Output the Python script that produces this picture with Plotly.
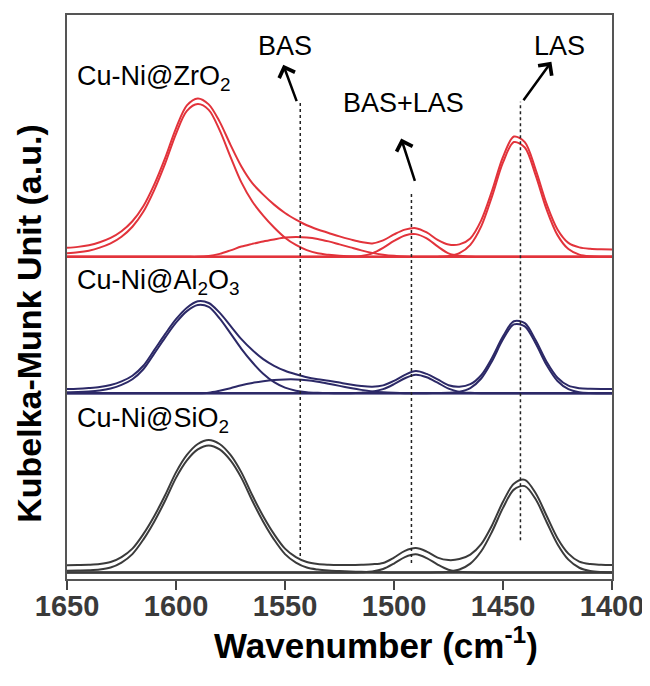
import plotly.graph_objects as go

# ---- data (a.u.) ----
wavenumber = [1650, 1645, 1640, 1635, 1630, 1625, 1620, 1615, 1610, 1605,
              1600, 1595, 1590, 1585, 1580, 1575, 1570, 1565, 1560, 1555,
              1550, 1545, 1540, 1535, 1530, 1525, 1520, 1515, 1510, 1505,
              1500, 1495, 1490, 1485, 1480, 1475, 1470, 1465, 1460, 1455,
              1450, 1445, 1440, 1435, 1430, 1425, 1420, 1415, 1410, 1405, 1400]

# Cu-Ni@ZrO2
zro2_total = [9.0, 10.0, 11.7, 14.7, 19.0, 25.7, 35.7, 50.7, 72.4, 99.0,
              129.0, 152.0, 159.0, 153.0, 135.7, 112.4, 90.7, 74.0, 62.4, 52.4,
              44.0, 37.4, 31.7, 27.5, 24.0, 20.5, 17.5, 14.8, 13.5, 16.5,
              22.5, 27.3, 28.8, 24.5, 17.0, 12.3, 12.5, 18.5, 36.6, 66.4,
              100.2, 120.7, 115.2, 87.3, 53.1, 27.5, 14.0, 9.5, 8.0, 7.5, 7.4]
zro2_peak1590 = [3.5, 4.5, 6.2, 9.2, 13.5, 20.2, 30.2, 45.2, 67.0, 93.5,
                 123.5, 146.5, 153.3, 147.5, 127.2, 100.4, 74.7, 55.5, 41.4, 29.4,
                 19.2, 11.9, 6.7, 3.5, 2.0, 1.0, 0.5, 0.2, 0, 0,
                 0, 0, 0, 0, 0, 0, 0, 0, 0, 0,
                 0, 0, 0, 0, 0, 0, 0, 0, 0, 0, 0]
zro2_peak1545 = [0, 0, 0, 0, 0, 0, 0, 0, 0, 0,
                 0, 0, 0, 0.8, 3.0, 6.5, 10.3, 13.0, 15.5, 17.5,
                 19.3, 20.0, 19.5, 18.0, 15.5, 12.5, 9.5, 6.5, 4.0, 2.2,
                 1.0, 0.3, 0, 0, 0, 0, 0, 0, 0, 0,
                 0, 0, 0, 0, 0, 0, 0, 0, 0, 0, 0]
zro2_peak1490 = [0, 0, 0, 0, 0, 0, 0, 0, 0, 0,
                 0, 0, 0, 0, 0, 0, 0, 0, 0, 0,
                 0, 0, 0, 0, 0, 0, 0, 0.8, 3.5, 9.0,
                 16.0, 21.5, 22.8, 18.5, 10.5, 3.5, 1.0, 0.3, 0, 0,
                 0, 0, 0, 0, 0, 0, 0, 0, 0, 0, 0]
zro2_peak1445 = [0, 0, 0, 0, 0, 0, 0, 0, 0, 0,
                 0, 0, 0, 0, 0, 0, 0, 0, 0, 0,
                 0, 0, 0, 0, 0, 0, 0, 0, 0, 0,
                 0, 0, 0, 0, 0.2, 0.9, 3.7, 12.1, 30.6, 60.9,
                 94.7, 115.2, 109.7, 81.8, 47.6, 21.8, 7.8, 2.2, 0.5, 0.1, 0]

# Cu-Ni@Al2O3
al2o3_total = [4.2, 4.5, 5.2, 6.2, 8.2, 11.8, 17.5, 27.5, 43.2, 59.2,
               74.2, 85.8, 92.2, 90.5, 80.8, 67.5, 54.2, 43.2, 34.2, 27.5,
               22.5, 19.0, 16.0, 14.0, 12.5, 10.6, 8.7, 7.2, 6.5, 7.8,
               12.3, 18.3, 22.2, 19.3, 13.9, 8.0, 6.5, 9.0, 18.0, 35.5,
               57.0, 72.2, 70.3, 53.0, 31.5, 15.5, 7.5, 5.0, 4.4, 4.2, 4.2]
al2o3_peak1590 = [1.0, 1.2, 1.7, 2.7, 4.7, 8.3, 14.0, 24.0, 39.7, 55.7,
                  70.7, 82.3, 88.5, 86.5, 75.0, 60.0, 44.5, 31.0, 19.5, 11.0,
                  5.5, 2.5, 1.0, 0.4, 0.1, 0, 0, 0, 0, 0,
                  0, 0, 0, 0, 0, 0, 0, 0, 0, 0,
                  0, 0, 0, 0, 0, 0, 0, 0, 0, 0, 0]
al2o3_peak1545 = [0, 0, 0, 0, 0, 0, 0, 0, 0, 0,
                  0, 0, 0, 0.5, 2.5, 5.0, 8.0, 10.3, 12.0, 13.2,
                  13.8, 13.8, 13.0, 11.5, 9.5, 7.3, 5.2, 3.3, 1.8, 0.8,
                  0.3, 0, 0, 0, 0, 0, 0, 0, 0, 0,
                  0, 0, 0, 0, 0, 0, 0, 0, 0, 0, 0]
al2o3_peak1490 = [0, 0, 0, 0, 0, 0, 0, 0, 0, 0,
                  0, 0, 0, 0, 0, 0, 0, 0, 0, 0,
                  0, 0, 0, 0, 0, 0, 0, 0.5, 1.5, 4.0,
                  9.0, 15.0, 18.5, 16.0, 10.5, 4.5, 1.3, 0.3, 0, 0,
                  0, 0, 0, 0, 0, 0, 0, 0, 0, 0, 0]
al2o3_peak1445 = [0, 0, 0, 0, 0, 0, 0, 0, 0, 0,
                  0, 0, 0, 0, 0, 0, 0, 0, 0, 0,
                  0, 0, 0, 0, 0, 0, 0, 0, 0, 0,
                  0, 0, 0, 0, 0.1, 0.3, 1.4, 5.1, 14.7, 32.3,
                  54.0, 69.0, 67.1, 49.8, 28.2, 12.2, 4.0, 1.0, 0.2, 0, 0]

# Cu-Ni@SiO2
sio2_total = [7.3, 7.5, 7.8, 8.5, 10.5, 15.5, 24.0, 38.5, 56.5, 77.5,
              100.5, 118.0, 129.0, 133.0, 129.0, 118.0, 100.5, 77.5, 56.5, 38.5,
              24.0, 15.5, 10.5, 8.5, 7.8, 7.5, 7.5, 7.8, 8.3, 9.6,
              15.0, 21.7, 24.5, 21.0, 15.0, 12.5, 13.5, 18.0, 28.5, 47.5,
              71.0, 89.0, 93.0, 79.5, 57.0, 34.5, 19.0, 11.0, 8.5, 7.8, 7.5]
sio2_peak1585 = [1.8, 2.0, 2.3, 3.0, 5.0, 10.0, 18.5, 33.0, 51.0, 72.0,
                 95.0, 112.5, 123.5, 127.5, 123.5, 112.5, 95.0, 72.0, 51.0, 33.0,
                 18.5, 10.0, 5.0, 3.0, 2.0, 1.5, 1.0, 0.7, 0.4, 0.2,
                 0, 0, 0, 0, 0, 0, 0, 0, 0, 0,
                 0, 0, 0, 0, 0, 0, 0, 0, 0, 0, 0]
sio2_peak1490 = [0, 0, 0, 0, 0, 0, 0, 0, 0, 0,
                 0, 0, 0, 0, 0, 0, 0, 0, 0, 0,
                 0, 0, 0, 0, 0, 0, 0, 0.3, 1.0, 3.5,
                 9.0, 15.5, 18.3, 14.5, 8.0, 2.8, 0.7, 0.2, 0, 0,
                 0, 0, 0, 0, 0, 0, 0, 0, 0, 0, 0]
sio2_peak1440 = [0, 0, 0, 0, 0, 0, 0, 0, 0, 0,
                 0, 0, 0, 0, 0, 0, 0, 0, 0, 0,
                 0, 0, 0, 0, 0, 0, 0, 0, 0, 0,
                 0, 0, 0, 0, 0.2, 0.85, 3.0, 8.9, 21.3, 41.2,
                 64.9, 83.2, 86.7, 73.5, 50.7, 28.4, 12.9, 4.8, 1.5, 0.4, 0.1]

sample_labels = ["Cu-Ni@ZrO<sub>2</sub>", "Cu-Ni@Al<sub>2</sub>O<sub>3</sub>", "Cu-Ni@SiO<sub>2</sub>"]
sample_offsets = [323.3, 186.5, 6.5]          # vertical stacking offsets
band_labels = ["BAS", "BAS+LAS", "LAS"]
band_positions = [1543, 1492, 1442]           # cm-1, dotted marker lines
x_ticks = [1650, 1600, 1550, 1500, 1450, 1400]

# ---- styling ----
RED = "#E2333B"
NAVY = "#2C2967"
GRAY = "#3B3B3B"
FONT = "Arial, Liberation Sans, sans-serif"

fig = go.Figure()


def add_sample(curves, offset, color):
    fig.add_trace(go.Scatter(x=[wavenumber[0], wavenumber[-1]], y=[offset, offset],
                             mode="lines", line=dict(color=color, width=2),
                             hoverinfo="skip", showlegend=False))
    for c in curves:
        fig.add_trace(go.Scatter(x=wavenumber, y=[v + offset for v in c], mode="lines",
                                 line=dict(color=color, width=2, shape="spline", smoothing=0.9),
                                 showlegend=False))


add_sample([zro2_peak1590, zro2_peak1545, zro2_peak1490, zro2_peak1445, zro2_total],
           sample_offsets[0], RED)
add_sample([al2o3_peak1590, al2o3_peak1545, al2o3_peak1490, al2o3_peak1445, al2o3_total],
           sample_offsets[1], NAVY)
add_sample([sio2_peak1585, sio2_peak1490, sio2_peak1440, sio2_total],
           sample_offsets[2], GRAY)

# dotted marker lines
line_spans = [(23, 479), (16, 388), (39, 479)]
for xpos, (y0, y1) in zip(band_positions, line_spans):
    fig.add_shape(type="line", xref="x", yref="y", x0=xpos, x1=xpos, y0=y0, y1=y1,
                  line=dict(color="#222222", width=1.5, dash="dot"))

# arrows
arrows = [((1550.8, 516), (1544.4, 478)),
          ((1496.7, 442), (1490.2, 398)),
          ((1427.8, 519), (1441.1, 479))]
for (hx, hy), (tx, ty) in arrows:
    fig.add_annotation(x=hx, y=hy, ax=tx, ay=ty, xref="x", yref="y", axref="x", ayref="y",
                       text="", showarrow=True, arrowhead=4, arrowsize=1.3, arrowwidth=2.5,
                       arrowcolor="black")

# band labels
band_text_pos = [(1550.2, 535), (1495.5, 478), (1424.0, 535)]
for lab, (bx, by) in zip(band_labels, band_text_pos):
    fig.add_annotation(x=bx, y=by, xref="x", yref="y", text=lab, showarrow=False,
                       font=dict(family=FONT, size=27, color="black"),
                       xanchor="center", yanchor="middle")

# sample labels
label_y = [503, 298, 160]
for lab, ly in zip(sample_labels, label_y):
    fig.add_annotation(x=1646.5, y=ly, xref="x", yref="y", text=lab, showarrow=False,
                       font=dict(family=FONT, size=27, color="black"),
                       xanchor="left", yanchor="middle")

# axis titles
fig.add_annotation(x=0.567, y=-0.113, xref="paper", yref="paper",
                   text="<b>Wavenumber (cm<sup>-1</sup>)</b>", showarrow=False,
                   font=dict(family=FONT, size=35, color="black"),
                   xanchor="center", yanchor="middle")
fig.add_annotation(x=-0.071, y=0.453, xref="paper", yref="paper",
                   text="<b>Kubelka-Munk Unit (a.u.)</b>", showarrow=False, textangle=-90,
                   font=dict(family=FONT, size=34, color="black"),
                   xanchor="center", yanchor="middle")

# page has an 8px body margin: size the figure so the plot area lands where the reference has it
fig.update_layout(
    width=642, height=678,
    margin=dict(l=59, r=38, t=5, b=107),
    paper_bgcolor="white", plot_bgcolor="white",
    showlegend=False,
    xaxis=dict(range=[1650, 1400], tickvals=x_ticks, ticktext=[f"<b>{t}</b>" for t in x_ticks],
               ticks="outside", ticklen=9, tickwidth=1.5, tickcolor="#444444",
               ticklabelstandoff=-9, ticklabeloverflow="allow",
               tickfont=dict(family=FONT, size=29, color="#3a3a3a"),
               showline=True, mirror=True, linecolor="#555555", linewidth=2,
               showgrid=False, zeroline=False),
    yaxis=dict(range=[0, 566], showticklabels=False, ticks="",
               showline=True, mirror=True, linecolor="#555555", linewidth=2,
               showgrid=False, zeroline=False),
)

fig.write_html("out.html")
